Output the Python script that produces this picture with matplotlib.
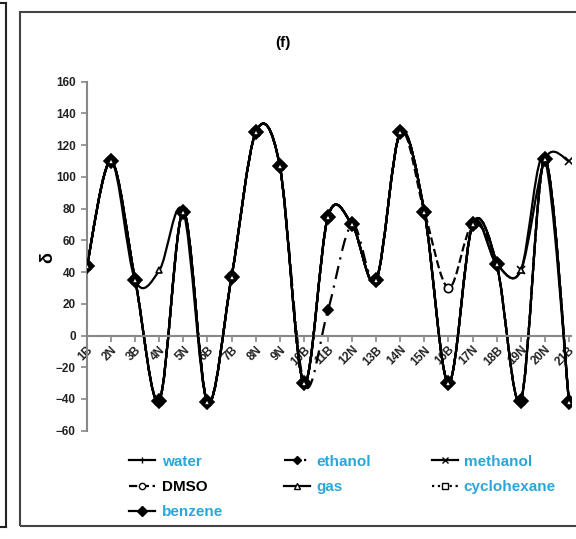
import matplotlib
matplotlib.use('Agg')
import matplotlib.pyplot as plt
import numpy as np
from matplotlib.path import Path
from matplotlib.patches import PathPatch, Rectangle
from matplotlib.lines import Line2D

plt.rcParams['font.family'] = ['Liberation Sans', 'DejaVu Sans']
plt.rcParams['font.weight'] = 'bold'

# data
categories = ['1B', '2N', '3B', '4N', '5N', '6B', '7B', '8N', '9N', '10B', '11B',
              '12N', '13B', '14N', '15N', '16B', '17N', '18B', '19N', '20N', '21B']
water = [44, 110, 35, -41, 78, -42, 37, 128, 107, -30, 75, 70, 35, 128, 78, -30, 70, 45, -41, 111, -42]
ethanol = [44, 110, 35, -41, 78, -42, 37, 128, 107, -30, 16, 70, 35, 128, 78, -30, 70, 45, -41, 111, -42]
methanol = [44, 110, 35, -41, 78, -42, 37, 128, 107, -30, 75, 70, 35, 128, 78, -30, 70, 45, 41, 111, 110]
dmso = [44, 110, 35, -41, 78, -42, 37, 128, 107, -30, 75, 70, 35, 128, 78, 30, 70, 45, -41, 111, -42]
gas = [44, 110, 35, 41, 78, -42, 37, 128, 107, -30, 75, 70, 35, 128, 78, -30, 70, 45, 41, 111, -42]
cyclohexane = [44, 110, 35, -41, 78, -42, 37, 128, 107, -30, 75, 70, 35, 128, 78, -30, 70, 45, -41, 111, -42]
benzene = [44, 110, 35, -41, 78, -42, 37, 128, 107, -30, 75, 70, 35, 128, 78, -30, 70, 45, -41, 111, -42]

series = [
    ('water', water, '-', '|', 'black', 6),
    ('ethanol', ethanol, (0, (6, 3, 1, 3)), 'D', 'black', 5),
    ('methanol', methanol, '-', 'x', 'black', 6),
    ('DMSO', dmso, '--', 'o', 'white', 6),
    ('cyclohexane', cyclohexane, ':', 's', 'white', 5),
    ('benzene', benzene, '-', 'D', 'black', 7),
    ('gas', gas, '-', '^', 'white', 5),
]


def smooth_path(x, y):
    # Excel-style smoothed line: cubic Bezier through every point
    pts = np.column_stack([x, y]).astype(float)
    n = len(pts)
    verts = [pts[0]]
    codes = [Path.MOVETO]
    for i in range(n - 1):
        p0 = pts[max(i - 1, 0)]
        p1 = pts[i]
        p2 = pts[i + 1]
        p3 = pts[min(i + 2, n - 1)]
        verts += [p1 + (p2 - p0) / 6, p2 - (p3 - p1) / 6, p2]
        codes += [Path.CURVE4] * 3
    return Path(verts, codes)


fig = plt.figure(figsize=(5.76, 5.39), dpi=100)
ax = fig.add_axes([0.151, 0.2009, 0.841, 0.6475])

x = np.arange(len(categories))
for z, (name, vals, ls, mk, fc, ms) in enumerate(series):
    ax.add_patch(PathPatch(smooth_path(x, vals), fill=False, edgecolor='black',
                           linewidth=1.6, linestyle=ls, zorder=2 + z * 0.1))
    ax.plot(x, vals, linestyle='none', marker=mk, markersize=ms,
            markerfacecolor=fc, markeredgecolor='black', markeredgewidth=1.2,
            zorder=3 + z * 0.1)

ax.set_xlim(0, 20.1)
ax.set_ylim(-60, 160)
ax.set_yticks(np.arange(-60, 161, 20))
ax.set_xticks(x)
ax.set_xticklabels(categories)
for s in ['top', 'right']:
    ax.spines[s].set_visible(False)
ax.spines['bottom'].set_position(('data', 0))
for s in ['left', 'bottom']:
    ax.spines[s].set_color('#888888')
    ax.spines[s].set_linewidth(1.5)
ax.tick_params(axis='both', direction='out', length=4, width=1.2, color='#888888')
ax.tick_params(axis='y', labelsize=8.5, labelcolor='#222222', pad=4)
ax.tick_params(axis='x', labelsize=8.5, labelcolor='#222222', pad=2)
plt.setp(ax.get_xticklabels(), rotation=45, ha='right', va='top', rotation_mode='anchor')

fig.text(0.491, 0.920, '(f)', ha='center', va='center', fontsize=11, fontweight='bold')
fig.text(0.083, 0.523, 'δ', ha='center', va='center', rotation=90, fontsize=13, fontweight='bold')

handles = {}
for name, vals, ls, mk, fc, ms in series:
    handles[name] = Line2D([], [], color='black', linestyle=ls, linewidth=1.6, marker=mk,
                           markersize=ms, markerfacecolor=fc, markeredgecolor='black')
order = ['water', 'DMSO', 'benzene', 'ethanol', 'gas', 'methanol', 'cyclohexane']
leg = fig.legend([handles[k] for k in order], order, ncol=3, loc='center',
                 bbox_to_anchor=(0.595, 0.0965), frameon=False, fontsize=11,
                 handlelength=1.7, handletextpad=0.4, columnspacing=4.0, labelspacing=0.75,
                 markerscale=0.75)
for t in leg.get_texts():
    t.set_color('black' if t.get_text() == 'DMSO' else '#2aa6d9')

# panel frame and neighbouring panel edge
fig.add_artist(Rectangle((20 / 576, 1 - 526 / 539), 1.0, (526 - 12) / 539,
                         transform=fig.transFigure, fill=False, edgecolor='#444444', linewidth=1.5))
fig.add_artist(Line2D([6 / 576, 6 / 576], [1 - 527 / 539, 1 - 3 / 539],
                      transform=fig.transFigure, color='#222222', linewidth=1.5))
fig.add_artist(Line2D([0, 6 / 576], [1 - 527 / 539, 1 - 527 / 539],
                      transform=fig.transFigure, color='#222222', linewidth=1.5))
fig.add_artist(Line2D([0, 6 / 576], [1 - 3 / 539, 1 - 3 / 539],
                      transform=fig.transFigure, color='#222222', linewidth=1.5))

fig.savefig('out.png', dpi=100)
